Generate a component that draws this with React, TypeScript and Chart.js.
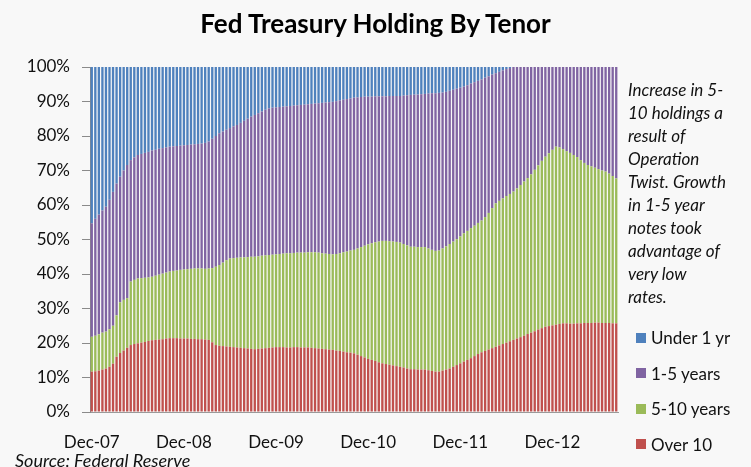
import React, { useEffect, useRef } from "react";
import { Chart, registerables } from "chart.js";

Chart.register(...registerables);

const tickLabels = ["Dec-07", "Dec-08", "Dec-09", "Dec-10", "Dec-11", "Dec-12"];
const periodsPerLabel = 26;

const over10 = [
  11.7, 11.8, 12.0, 12.3, 12.6, 13.1, 14.0, 16.0, 17.1, 17.8, 18.6, 19.4, 19.7, 19.9, 20.1, 20.3, 20.6, 20.8, 20.9, 21.0,
  21.1, 21.3, 21.4, 21.4, 21.4, 21.3, 21.3, 21.3, 21.2, 21.2, 21.1, 21.1, 21.0, 20.9, 20.2, 19.4, 19.2, 19.1, 19.0, 18.9,
  18.8, 18.7, 18.6, 18.5, 18.4, 18.3, 18.2, 18.3, 18.4, 18.5, 18.6, 18.7, 18.8, 18.8, 18.8, 18.7, 18.7, 18.8, 18.8, 18.7,
  18.7, 18.7, 18.6, 18.5, 18.4, 18.3, 18.2, 18.1, 18.0, 17.8, 17.7, 17.5, 17.3, 17.2, 17.0, 16.6, 16.2, 15.8, 15.4, 15.1,
  14.8, 14.4, 14.1, 13.9, 13.7, 13.5, 13.3, 13.1, 12.9, 12.6, 12.4, 12.4, 12.3, 12.3, 12.3, 12.1, 11.9, 11.7, 11.7, 12.0,
  12.3, 12.6, 13.1, 13.6, 14.1, 14.6, 15.1, 15.6, 16.2, 16.8, 17.3, 17.7, 18.1, 18.5, 18.9, 19.3, 19.7, 20.1, 20.5, 20.9,
  21.3, 21.7, 22.1, 22.6, 23.0, 23.4, 23.9, 24.3, 24.7, 24.9, 25.1, 25.3, 25.5, 25.7, 25.7, 25.6, 25.6, 25.7, 25.7, 25.8,
  25.8, 25.8, 25.9, 25.9, 25.8, 25.8, 25.8, 25.7, 25.7,
];

const fiveToTen = [
  10.1, 10.3, 10.5, 10.7, 10.7, 10.9, 11.0, 12.0, 14.7, 14.7, 14.4, 18.4, 18.6, 18.8, 18.7, 18.6, 18.4, 18.4, 18.6, 18.8,
  19.0, 19.1, 19.3, 19.5, 19.6, 19.9, 20.0, 20.1, 20.3, 20.4, 20.5, 20.5, 20.5, 20.7, 21.5, 22.7, 23.4, 24.2, 25.0, 25.6,
  25.8, 26.0, 26.2, 26.3, 26.5, 26.7, 26.8, 26.8, 26.9, 26.9, 26.9, 26.9, 26.9, 27.0, 27.1, 27.3, 27.3, 27.3, 27.4, 27.5,
  27.5, 27.6, 27.7, 27.8, 27.8, 27.7, 27.7, 27.7, 27.7, 28.0, 28.3, 28.8, 29.2, 29.6, 30.0, 30.8, 31.6, 32.4, 33.2, 33.8,
  34.4, 35.0, 35.5, 35.7, 35.8, 35.9, 36.0, 36.0, 35.8, 35.7, 35.5, 35.5, 35.5, 35.5, 35.5, 35.3, 35.1, 35.0, 35.1, 35.4,
  35.7, 36.1, 36.3, 36.5, 36.8, 37.2, 37.4, 37.7, 37.8, 38.0, 38.2, 38.8, 39.6, 40.6, 41.6, 41.9, 42.2, 42.5, 42.7, 43.0,
  43.5, 44.1, 44.7, 45.2, 45.9, 46.8, 47.6, 48.5, 49.3, 50.1, 50.9, 51.6, 51.2, 50.5, 49.9, 49.5, 48.9, 48.2, 47.3, 46.4,
  45.8, 45.4, 44.9, 44.5, 44.2, 43.9, 43.3, 42.7, 42.0,
];

const oneToFive = [
  32.9, 33.9, 34.7, 35.4, 36.2, 37.5, 38.8, 38.2, 36.4, 37.5, 38.6, 35.2, 35.5, 35.8, 36.0, 36.2, 36.4, 36.6, 36.5, 36.5,
  36.4, 36.3, 36.2, 36.1, 36.1, 36.0, 36.0, 36.0, 36.0, 36.0, 36.1, 36.2, 36.5, 36.8, 37.5, 37.9, 38.2, 38.0, 37.8, 37.8,
  38.2, 38.5, 39.0, 39.6, 40.1, 40.6, 41.1, 41.5, 41.8, 42.2, 42.5, 42.6, 42.6, 42.6, 42.6, 42.6, 42.7, 42.7, 42.7, 42.8,
  42.9, 42.9, 43.0, 43.1, 43.3, 43.6, 43.8, 44.0, 44.2, 44.3, 44.3, 44.2, 44.2, 44.1, 44.1, 43.8, 43.5, 43.2, 42.8, 42.5,
  42.3, 42.1, 41.9, 41.9, 42.1, 42.2, 42.3, 42.5, 43.0, 43.5, 44.0, 44.1, 44.2, 44.3, 44.4, 44.9, 45.4, 45.7, 45.7, 45.2,
  44.8, 44.4, 44.0, 43.6, 43.1, 42.5, 42.2, 41.9, 41.6, 41.2, 40.9, 40.4, 39.6, 38.7, 37.7, 37.4, 37.1, 36.8, 36.5, 36.1,
  35.2, 34.2, 33.2, 32.2, 31.1, 29.8, 28.5, 27.2, 26.0, 25.0, 24.0, 23.1, 23.3, 23.8, 24.4, 24.9, 25.5, 26.1, 27.0, 27.8,
  28.4, 28.8, 29.2, 29.6, 30.0, 30.3, 30.9, 31.6, 32.3,
];

const underOne = [
  45.3, 44.0, 42.8, 41.6, 40.5, 38.5, 36.2, 33.8, 31.8, 30.0, 28.4, 27.0, 26.2, 25.5, 25.2, 24.9, 24.6, 24.2, 24.0, 23.7,
  23.5, 23.3, 23.1, 23.0, 22.9, 22.8, 22.7, 22.6, 22.5, 22.4, 22.3, 22.2, 22.0, 21.6, 20.8, 20.0, 19.2, 18.7, 18.2, 17.7,
  17.2, 16.8, 16.2, 15.6, 15.0, 14.4, 13.9, 13.4, 12.9, 12.4, 12.0, 11.8, 11.7, 11.6, 11.5, 11.4, 11.3, 11.2, 11.1, 11.0,
  10.9, 10.8, 10.7, 10.6, 10.5, 10.4, 10.3, 10.2, 10.1, 9.9, 9.7, 9.5, 9.3, 9.1, 8.9, 8.8, 8.7, 8.6, 8.6, 8.6,
  8.5, 8.5, 8.5, 8.5, 8.4, 8.4, 8.4, 8.4, 8.3, 8.2, 8.1, 8.0, 8.0, 7.9, 7.8, 7.7, 7.6, 7.6, 7.5, 7.4,
  7.2, 6.9, 6.6, 6.3, 6.0, 5.7, 5.3, 4.8, 4.4, 4.0, 3.6, 3.1, 2.7, 2.2, 1.8, 1.4, 1.0, 0.6, 0.3, 0,
  0, 0, 0, 0, 0, 0, 0, 0, 0, 0, 0, 0, 0, 0, 0, 0, 0, 0, 0, 0,
  0, 0, 0, 0, 0, 0, 0, 0, 0,
];

const seriesNames = ["Under 1 yr", "1-5 years", "5-10 years", "Over 10"];
const seriesColors = ["#4F81BD", "#8064A2", "#9BBB59", "#C0504D"];

const noteLines = [
  "Increase in 5-",
  "10 holdings a",
  "result of",
  "Operation",
  "Twist. Growth",
  "in 1-5 year",
  "notes took",
  "advantage of",
  "very low",
  "rates.",
];

const FONT = "Lato, 'Open Sans', sans-serif";

export default function App() {
  const canvasRef = useRef<HTMLCanvasElement | null>(null);

  useEffect(() => {
    if (!canvasRef.current) return;
    const labels = over10.map((_, i) =>
      i % periodsPerLabel === 0 ? tickLabels[i / periodsPerLabel] ?? "" : ""
    );
    const stackData = [over10, fiveToTen, oneToFive, underOne];
    const stackNames = [seriesNames[3], seriesNames[2], seriesNames[1], seriesNames[0]];
    const stackColors = [seriesColors[3], seriesColors[2], seriesColors[1], seriesColors[0]];
    const chart = new Chart(canvasRef.current, {
      type: "bar",
      data: {
        labels,
        datasets: stackData.map((d, k) => ({
          label: stackNames[k],
          data: d,
          backgroundColor: stackColors[k],
          borderWidth: 0,
          barPercentage: 0.66,
          categoryPercentage: 1,
        })),
      },
      options: {
        animation: false,
        responsive: false,
        devicePixelRatio: 1,
        layout: { padding: { top: 67, right: 133, left: 0, bottom: 0 } },
        plugins: {
          legend: { display: false },
          tooltip: { enabled: false },
          title: { display: false },
        },
        scales: {
          x: {
            stacked: true,
            grid: { display: false },
            border: { display: true, color: "#9a9a9a" },
            ticks: {
              autoSkip: false,
              maxRotation: 0,
              minRotation: 0,
              padding: 12,
              color: "#111",
              font: { family: FONT, size: 17 },
            },
            afterFit: (scale: any) => {
              scale.height = 55;
            },
          },
          y: {
            stacked: true,
            min: 0,
            max: 100,
            grid: {
              drawOnChartArea: false,
              drawTicks: true,
              tickLength: 8,
              color: "#8a8a8a",
            },
            border: { display: true, color: "#8a8a8a" },
            ticks: {
              stepSize: 10,
              padding: 12,
              color: "#111",
              font: { family: FONT, size: 17 },
              callback: (v: any) => `${v}%`,
            },
            afterFit: (scale: any) => {
              scale.width = 90;
            },
          },
        },
      },
    });
    return () => chart.destroy();
  }, []);

  return (
    <div
      style={{
        position: "absolute",
        left: 0,
        top: 0,
        width: 751,
        height: 467,
        background: "#f8f8f8",
        fontFamily: FONT,
        color: "#111",
        overflow: "hidden",
      }}
    >
      <canvas ref={canvasRef} width={751} height={467} style={{ position: "absolute", left: 0, top: 0 }} />
      <div
        style={{
          position: "absolute",
          left: 0,
          width: 751,
          top: 7,
          textAlign: "center",
          fontWeight: 700,
          fontSize: 26,
          lineHeight: "32px",
          color: "#000",
        }}
      >
        Fed Treasury Holding By Tenor
      </div>
      <div
        style={{
          position: "absolute",
          left: 628,
          top: 78,
          fontStyle: "italic",
          fontSize: 17,
          lineHeight: "23px",
          whiteSpace: "nowrap",
        }}
      >
        {noteLines.map((l, i) => (
          <div key={i}>{l}</div>
        ))}
      </div>
      <div style={{ position: "absolute", left: 636, top: 320 }}>
        {seriesNames.map((n, i) => (
          <div
            key={n}
            style={{ display: "flex", alignItems: "center", height: 35.5, fontSize: 17, whiteSpace: "nowrap" }}
          >
            <span
              style={{ display: "inline-block", width: 10, height: 10, background: seriesColors[i], marginRight: 5 }}
            />
            {n}
          </div>
        ))}
      </div>
      <div
        style={{
          position: "absolute",
          left: 15,
          top: 449,
          fontStyle: "italic",
          fontSize: 18,
          lineHeight: "22px",
          whiteSpace: "nowrap",
        }}
      >
        Source: Federal Reserve
      </div>
    </div>
  );
}
